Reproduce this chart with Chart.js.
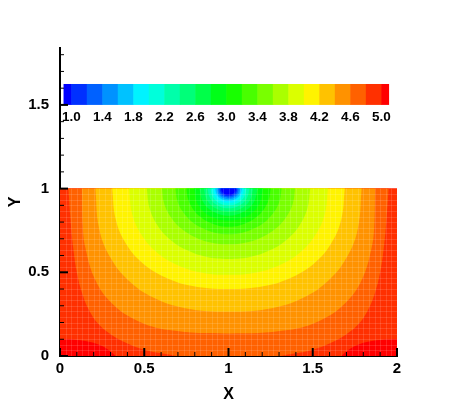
<!DOCTYPE html>
<html>
<head>
<meta charset="utf-8">
<script src="https://cdn.jsdelivr.net/npm/chart.js@4.4.1/dist/chart.umd.min.js"></script>
<style>
html,body{margin:0;padding:0;background:#fff;}
#wrap{width:452px;height:402px;}
canvas{display:block;}
</style>
</head>
<body>
<div id="wrap"><canvas id="c" width="452" height="402"></canvas></div>
<script>
// ---------- axis ticks ----------
const xTicks = [0, 0.5, 1, 1.5, 2];
const yTicks = [0, 0.5, 1, 1.5];

// ---------- contour levels and legend ----------
const levels = [1.0, 1.2, 1.4, 1.6, 1.8, 2.0, 2.2, 2.4, 2.6, 2.8, 3.0,
                3.2, 3.4, 3.6, 3.8, 4.0, 4.2, 4.4, 4.6, 4.8, 5.0];
const legendLabels = ['1.0', '1.4', '1.8', '2.2', '2.6', '3.0', '3.4', '3.8', '4.2', '4.6', '5.0'];
// band colours: below 1.0, the 20 bands between levels, above 5.0
const bandColors = ['#0000ff', '#0030ff', '#0061ff', '#0092ff', '#00c2ff', '#00f3ff',
                    '#00ffdb', '#00ffaa', '#00ff79', '#00ff49', '#00ff18',
                    '#18ff00', '#49ff00', '#79ff00', '#aaff00', '#dbff00',
                    '#fff300', '#ffc200', '#ff9200', '#ff6100', '#ff3000', '#ff0000'];

// ---------- iso-lines: [x, y] along each level ----------
const iso_1_0 = [[0.955,1],[0.961,0.981],[0.978,0.967],[1,0.962],[1.022,0.967],[1.039,0.981],[1.045,1]];
const iso_1_2 = [[0.947,1],[0.954,0.977],[0.974,0.96],[1,0.954],[1.026,0.96],[1.046,0.977],[1.053,1]];
const iso_1_4 = [[0.939,1],[0.947,0.973],[0.97,0.953],[1,0.946],[1.03,0.953],[1.053,0.973],[1.061,1]];
const iso_1_6 = [[0.93,1],[0.939,0.969],[0.965,0.945],[1,0.937],[1.035,0.945],[1.061,0.969],[1.07,1]];
const iso_1_8 = [[0.92,1],[0.931,0.964],[0.96,0.937],[1,0.927],[1.04,0.937],[1.069,0.964],[1.08,1]];
const iso_2_0 = [[0.908,1],[0.92,0.958],[0.954,0.926],[1,0.915],[1.046,0.926],[1.08,0.958],[1.092,1]];
const iso_2_2 = [[0.893,1],[0.907,0.95],[0.947,0.913],[1,0.9],[1.053,0.913],[1.093,0.95],[1.107,1]];
const iso_2_4 = [[0.875,1],[0.892,0.941],[0.938,0.898],[1,0.882],[1.062,0.898],[1.108,0.941],[1.125,1]];
const iso_2_6 = [[0.853,1],[0.873,0.931],[0.926,0.881],[1,0.862],[1.074,0.881],[1.127,0.931],[1.147,1]];
const iso_2_8 = [[0.827,1],[0.85,0.919],[0.914,0.86],[1,0.838],[1.086,0.86],[1.15,0.919],[1.173,1]];
const iso_3_0 = [[0.795,1],[0.821,0.902],[0.894,0.834],[1,0.81],[1.106,0.834],[1.179,0.902],[1.205,1]];
const iso_3_2 = [[0.75,1],[0.759,0.941],[0.784,0.886],[0.823,0.839],[0.875,0.803],[0.935,0.78],[1,0.772],
                 [1.065,0.78],[1.125,0.803],[1.177,0.839],[1.216,0.886],[1.241,0.941],[1.25,1]];
const iso_3_4 = [[0.685,1],[0.696,0.929],[0.727,0.864],[0.777,0.807],[0.843,0.764],[0.918,0.736],[1,0.727],
                 [1.082,0.736],[1.157,0.764],[1.223,0.807],[1.273,0.864],[1.304,0.929],[1.315,1]];
const iso_3_6 = [[0.605,1],[0.618,0.911],[0.657,0.831],[0.718,0.763],[0.799,0.711],[0.894,0.678],[1,0.667],
                 [1.106,0.678],[1.201,0.711],[1.282,0.763],[1.343,0.831],[1.382,0.911],[1.395,1]];
const iso_3_8 = [[0.515,1],[0.531,0.884],[0.577,0.783],[0.651,0.698],[0.749,0.634],[0.866,0.593],[1,0.58],
                 [1.134,0.593],[1.251,0.634],[1.349,0.698],[1.423,0.783],[1.469,0.884],[1.485,1]];
const iso_4_0 = [[0.41,1],[0.428,0.849],[0.483,0.726],[0.569,0.624],[0.686,0.548],[0.827,0.501],[1,0.485],
                 [1.173,0.501],[1.314,0.548],[1.431,0.624],[1.517,0.726],[1.572,0.849],[1.59,1]];
const iso_4_2 = [[0.31,1],[0.331,0.815],[0.391,0.672],[0.489,0.556],[0.623,0.471],[0.787,0.418],[1,0.4],
                 [1.213,0.418],[1.377,0.471],[1.511,0.556],[1.609,0.672],[1.669,0.815],[1.69,1]];
const iso_4_4 = [[0.21,1],[0.232,0.762],[0.299,0.588],[0.408,0.45],[0.557,0.348],[0.744,0.286],[1,0.265],
                 [1.256,0.286],[1.443,0.348],[1.592,0.45],[1.701,0.588],[1.768,0.762],[1.79,1]];
const iso_4_6 = [[0.13,1],[0.135,0.778],[0.15,0.649],[0.209,0.455],[0.309,0.313],[0.452,0.214],[0.647,0.155],[1,0.135],
                 [1.353,0.155],[1.548,0.214],[1.691,0.313],[1.791,0.455],[1.85,0.649],[1.865,0.778],[1.87,1]];
const iso_4_8 = [[0.05,1],[0.062,0.82],[0.078,0.65],[0.1,0.5],[0.13,0.38],[0.17,0.28],[0.225,0.195],[0.3,0.13],
                 [0.4,0.075],[0.53,0.03],[0.69,0],[0.8,-0.04],[1.2,-0.04],[1.31,0],[1.47,0.03],[1.6,0.075],
                 [1.7,0.13],[1.775,0.195],[1.83,0.28],[1.87,0.38],[1.9,0.5],[1.922,0.65],[1.938,0.82],[1.95,1]];
const iso_5_0 = [[-0.05,1],[-0.05,0.1],[0,0.1],[0.1,0.096],[0.18,0.084],[0.25,0.06],[0.3,0.028],[0.33,0],
                 [0.38,-0.05],[1.62,-0.05],[1.67,0],[1.7,0.028],[1.75,0.06],[1.82,0.084],[1.9,0.096],[2,0.1],
                 [2.05,0.1],[2.05,1]];
const domainOutline = [[-0.05,1],[-0.05,-0.05],[2.05,-0.05],[2.05,1]];

const isoLines = [iso_1_0, iso_1_2, iso_1_4, iso_1_6, iso_1_8, iso_2_0, iso_2_2, iso_2_4, iso_2_6, iso_2_8,
                  iso_3_0, iso_3_2, iso_3_4, iso_3_6, iso_3_8, iso_4_0, iso_4_2, iso_4_4, iso_4_6, iso_4_8, iso_5_0];

// ---------- build datasets (innermost first = drawn on top) ----------
const toXY = pts => pts.map(p => ({x: p[0], y: p[1]}));
const datasets = isoLines.map((pts, k) => ({
  label: 'below ' + levels[k].toFixed(1),
  data: toXY(pts),
  fill: 'shape',
  backgroundColor: bandColors[k],
  borderColor: bandColors[k],
  borderWidth: 0,
  pointRadius: 0,
  tension: 0.4
}));
datasets.push({
  label: 'above 5.0',
  data: toXY(domainOutline),
  fill: 'shape',
  backgroundColor: bandColors[bandColors.length - 1],
  borderColor: bandColors[bandColors.length - 1],
  borderWidth: 0,
  pointRadius: 0,
  tension: 0
});

const FONT = "'Liberation Sans', Arial, Helvetica, sans-serif";

// colour legend placement (data units of the axes)
const legendBox = {x0: 0.067, x1: 1.907, yBottom: 1.5, yTop: 1.625};
// faint computational mesh over the field
const meshCells = {nx: 60, ny: 30};

const meshPlugin = {
  id: 'mesh',
  afterDatasetsDraw(chart) {
    const {ctx, scales: {x, y}} = chart;
    const l = x.getPixelForValue(0), r = x.getPixelForValue(2);
    const t = y.getPixelForValue(1), b = y.getPixelForValue(0);
    ctx.save();
    ctx.strokeStyle = 'rgba(255,255,255,0.13)';
    ctx.lineWidth = 1;
    ctx.beginPath();
    for (let i = 1; i < meshCells.nx; i++) {
      const px = Math.round(l + (r - l) * i / meshCells.nx) + 0.5;
      ctx.moveTo(px, t); ctx.lineTo(px, b);
    }
    for (let j = 1; j < meshCells.ny; j++) {
      const py = Math.round(t + (b - t) * j / meshCells.ny) + 0.5;
      ctx.moveTo(l, py); ctx.lineTo(r, py);
    }
    ctx.stroke();
    ctx.restore();
  }
};

const decorPlugin = {
  id: 'decor',
  afterDraw(chart) {
    const {ctx, scales: {x, y}, chartArea} = chart;
    ctx.save();
    // ---- colour legend ----
    const xa = x.getPixelForValue(legendBox.x0);
    const xb = x.getPixelForValue(legendBox.x1);
    const cell = (xb - xa) / (levels.length - 1);
    const top = y.getPixelForValue(legendBox.yTop);
    const bot = y.getPixelForValue(legendBox.yBottom);
    const n = bandColors.length;
    for (let k = 0; k < n; k++) {
      let l, r;
      if (k === 0) { l = xa - cell / 2; r = xa; }
      else if (k === n - 1) { l = xb; r = xb + cell / 2; }
      else { l = xa + (k - 1) * cell; r = xa + k * cell; }
      ctx.fillStyle = bandColors[k];
      ctx.fillRect(l, top, (r - l) + (k < n - 1 ? 0.6 : 0), bot - top);
    }
    ctx.fillStyle = '#000';
    ctx.font = 'bold 13.5px ' + FONT;
    ctx.textAlign = 'center';
    ctx.textBaseline = 'alphabetic';
    legendLabels.forEach(s => {
      const v = parseFloat(s);
      const px = xa + (v - levels[0]) / (levels[1] - levels[0]) * cell;
      ctx.fillText(s, px, bot + 16);
    });
    // ---- inward tick marks ----
    ctx.strokeStyle = '#000';
    const xb0 = chartArea.bottom, yl0 = chartArea.left;
    for (let i = 0; i <= 20; i++) {
      const v = i / 10;
      const major = i % 5 === 0;
      const px = x.getPixelForValue(v);
      ctx.lineWidth = major ? 2 : 1;
      ctx.beginPath();
      ctx.moveTo(px, xb0);
      ctx.lineTo(px, xb0 - (major ? 8 : 4));
      ctx.stroke();
    }
    for (let i = 0; i <= 18; i++) {
      const v = i / 10;
      const major = i % 5 === 0;
      const py = y.getPixelForValue(v);
      ctx.lineWidth = major ? 2 : 1;
      ctx.beginPath();
      ctx.moveTo(yl0, py);
      ctx.lineTo(yl0 + (major ? 8 : 4), py);
      ctx.stroke();
    }
    ctx.restore();
  }
};

const fmt = v => String(Number(v));

new Chart(document.getElementById('c'), {
  type: 'line',
  data: {datasets},
  options: {
    responsive: false,
    animation: false,
    devicePixelRatio: 1,
    events: [],
    layout: {padding: {top: 48, right: 55, bottom: 0, left: 0}},
    elements: {line: {capBezierPoints: false}, point: {radius: 0}},
    plugins: {legend: {display: false}, tooltip: {enabled: false}},
    scales: {
      x: {
        type: 'linear', min: 0, max: 2, z: 1,
        grid: {display: false, drawTicks: false},
        border: {display: true, color: '#000', width: 2},
        ticks: {color: '#000', padding: 4, maxRotation: 0, autoSkip: false, callback: fmt,
                font: {family: FONT, size: 15, weight: 'bold'}},
        afterBuildTicks: s => { s.ticks = xTicks.map(v => ({value: v})); },
        afterFit: s => { s.height = 46; },
        title: {display: true, text: 'X', color: '#000',
                font: {family: FONT, size: 16, weight: 'bold', lineHeight: 1},
                padding: {top: 0, bottom: -1}}
      },
      y: {
        type: 'linear', min: 0, max: 1.84, z: 1,
        grid: {display: false, drawTicks: false},
        border: {display: true, color: '#000', width: 2},
        ticks: {color: '#000', padding: 11, autoSkip: false, callback: fmt,
                font: {family: FONT, size: 15, weight: 'bold'}},
        afterBuildTicks: s => { s.ticks = yTicks.map(v => ({value: v})); },
        afterFit: s => { s.width = 60; },
        title: {display: true, text: 'Y', color: '#000',
                font: {family: FONT, size: 16, weight: 'bold', lineHeight: 1},
                padding: {top: 8, bottom: 0}}
      }
    }
  },
  plugins: [meshPlugin, decorPlugin]
});
</script>
</body>
</html>
